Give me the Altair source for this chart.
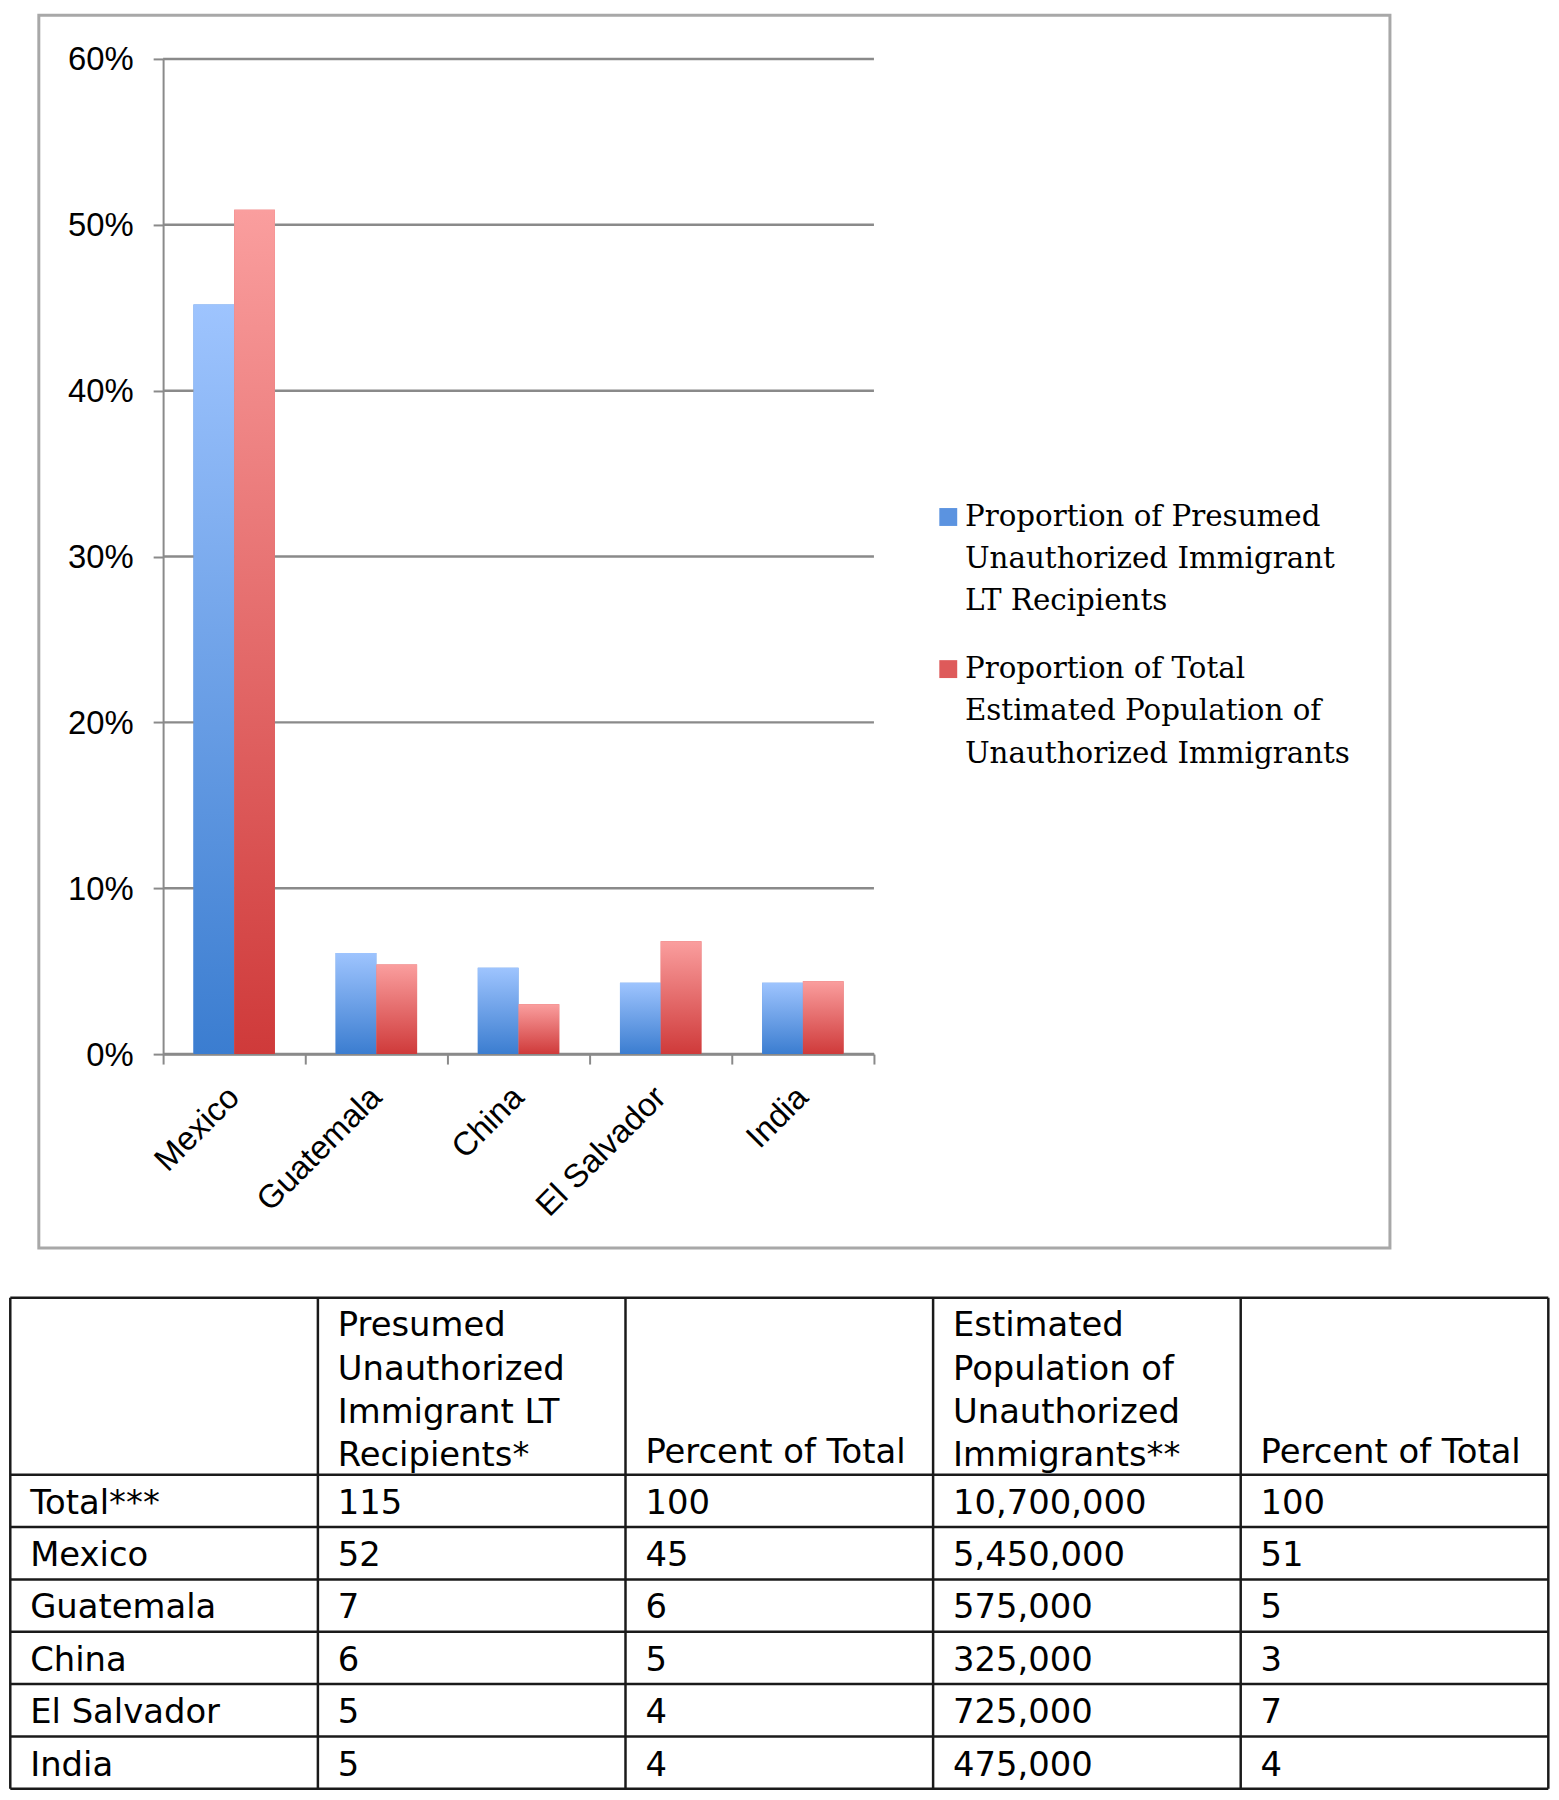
import altair as alt
import pandas as pd

# ---------------- data ----------------
countries = ["Mexico", "Guatemala", "China", "El Salvador", "India"]
series_names = [
    "Proportion of Presumed Unauthorized Immigrant LT Recipients",
    "Proportion of Total Estimated Population of Unauthorized Immigrants",
]
legend_lines = [
    ["Proportion of Presumed", "Unauthorized Immigrant", "LT Recipients"],
    ["Proportion of Total", "Estimated Population of", "Unauthorized Immigrants"],
]
lt_share = [45.2, 6.1, 5.2, 4.3, 4.3]      # % of presumed unauthorized LT recipients
pop_share = [50.9, 5.4, 3.0, 6.8, 4.4]     # % of estimated unauthorized population
y_ticks = [0, 10, 20, 30, 40, 50, 60]

table_header = [
    "",
    "Presumed\nUnauthorized\nImmigrant LT\nRecipients*",
    "Percent of Total",
    "Estimated\nPopulation of\nUnauthorized\nImmigrants**",
    "Percent of Total",
]
row_labels = ["Total***", "Mexico", "Guatemala", "China", "El Salvador", "India"]
lt_count = ["115", "52", "7", "6", "5", "5"]
lt_pct = ["100", "45", "6", "5", "4", "4"]
pop_est = ["10,700,000", "5,450,000", "575,000", "325,000", "725,000", "475,000"]
pop_pct = ["100", "51", "5", "3", "7", "4"]

# ---------------- layout constants ----------------
W, H = 1359, 1240          # framed chart panel
X0, X1 = 125, 840          # plot area inside the frame
Y0, Y1 = 1045, 44
GRAY = "#8a8a8a"

bars_df = pd.DataFrame({
    "country": countries * 2,
    "series": [series_names[0]] * len(countries) + [series_names[1]] * len(countries),
    "value": lt_share + pop_share,
})
grid_df = pd.DataFrame({"v": y_ticks})

n = len(countries)
band_scale = alt.Scale(domain=countries, range=[X0, X1], paddingInner=0.427, paddingOuter=0.2135)
y_scale = alt.Scale(domain=[0, 60], range=[Y0, Y1])
off = alt.XOffset("series:N", scale=alt.Scale(domain=series_names, paddingInner=0, paddingOuter=0))

y_axis = alt.Axis(orient="left", offset=-X0, values=y_ticks, labelExpr="datum.value + '%'",
                  grid=False, domain=True, domainColor=GRAY, domainWidth=2, ticks=True,
                  tickColor=GRAY, tickWidth=2, tickSize=10, labelPadding=20, labelOffset=1,
                  labelFont="Liberation Sans", labelFontSize=33, labelColor="black",
                  labelBaseline="middle", title=None)

grid = alt.Chart(grid_df).mark_rule(color=GRAY, strokeWidth=2.5).encode(
    x=alt.X(datum=0, type="quantitative", title=None,
            scale=alt.Scale(domain=[0, n], range=[X0, X1]),
            axis=alt.Axis(orient="bottom", offset=-(H - Y0), values=list(range(n + 1)),
                          labels=False, ticks=True, tickSize=10, tickColor=GRAY, tickWidth=2,
                          domain=True, domainColor=GRAY, domainWidth=2.5, grid=False, title=None)),
    x2=alt.X2(datum=n),
    y=alt.Y("v:Q", scale=y_scale, axis=y_axis, title=None),
)

label_expr = "datum.label == '%s' ? %s : %s" % (
    series_names[0], str(legend_lines[0]), str(legend_lines[1]))

base = alt.Chart(bars_df).mark_bar(strokeWidth=0).encode(
    x=alt.X("country:N", sort=countries, scale=band_scale, title=None,
            axis=alt.Axis(orient="bottom", offset=-(H - Y0), domain=False, ticks=False, tickSize=0,
                          labelAngle=-45, labelAlign="right", labelBaseline="middle",
                          labelPadding=38, labelFont="Liberation Sans", labelFontSize=33,
                          labelColor="black", grid=False, title=None)),
    xOffset=off,
    y=alt.Y("value:Q", scale=y_scale, title=None, axis=y_axis),
    color=alt.Color("series:N", scale=alt.Scale(domain=series_names, range=["#5b93e0", "#de5a5a"]),
                    legend=alt.Legend(title=None, orient="none", legendX=900, legendY=490,
                                      symbolType="square", symbolSize=324, symbolStrokeWidth=0,
                                      labelFont="DejaVu Serif", labelFontSize=29.5, labelColor="black",
                                      labelLimit=0, labelOffset=2, labelBaseline="middle",
                                      rowPadding=37, labelExpr=label_expr)),
)

grad_blue = alt.LinearGradient(gradient="linear", x1=0, x2=0, y1=0, y2=1, stops=[
    alt.GradientStop(color="#9ec4fe", offset=0), alt.GradientStop(color="#3b7dd0", offset=1)])
grad_red = alt.LinearGradient(gradient="linear", x1=0, x2=0, y1=0, y2=1, stops=[
    alt.GradientStop(color="#fa9e9e", offset=0), alt.GradientStop(color="#cf3a3a", offset=1)])


def overlay(name, grad):
    return alt.Chart(bars_df).transform_filter(alt.datum.series == name).mark_bar(
        fill=grad, strokeWidth=0).encode(
        x=alt.X("country:N", sort=countries, scale=band_scale, axis=None),
        xOffset=off,
        y=alt.Y("value:Q", scale=y_scale, axis=y_axis, title=None),
    )


chart = alt.layer(base, grid, overlay(series_names[0], grad_blue), overlay(series_names[1], grad_red)).resolve_scale(
    x="independent").resolve_axis(x="independent").properties(
    width=W, height=H, view=alt.ViewBackground(stroke="#a8a8a8", strokeWidth=3, fill="white"))

# ---------------- table ----------------
TW, TH = W, 494
TX0, TX1 = -28.7, 1518.3
HDR = 3.38
n_rows = len(row_labels)
total_units = HDR + n_rows
ncol = len(table_header)

tx = alt.Scale(domain=[0, ncol], range=[TX0, TX1])
ty = alt.Scale(domain=[0, total_units], range=[0, TH])

hline_df = pd.DataFrame({"y": [0] + [HDR + i for i in range(n_rows + 1)]})
vline_df = pd.DataFrame({"x": list(range(ncol + 1))})

hlines = alt.Chart(hline_df).mark_rule(color="#1a1a1a", strokeWidth=2.5).encode(
    x=alt.X(datum=0, type="quantitative", scale=tx, axis=None),
    x2=alt.X2(datum=ncol),
    y=alt.Y("y:Q", scale=ty, axis=None),
)
vlines = alt.Chart(vline_df).mark_rule(color="#1a1a1a", strokeWidth=2.5).encode(
    x=alt.X("x:Q", scale=tx, axis=None),
    y=alt.Y(datum=0, type="quantitative", scale=ty, axis=None),
    y2=alt.Y2(datum=total_units),
)

cells = []
cols = [row_labels, lt_count, lt_pct, pop_est, pop_pct]
for r in range(n_rows):
    for c in range(ncol):
        cells.append({"c": c, "y": HDR + r + 0.5, "t": cols[c][r]})
cells_df = pd.DataFrame(cells)

multi = [(c, t) for c, t in enumerate(table_header) if "\n" in t]
single = [(c, t) for c, t in enumerate(table_header) if t and "\n" not in t]
head_multi_df = pd.DataFrame({"c": [c for c, _ in multi], "y": [0] * len(multi), "t": [t for _, t in multi]})
head_single_df = pd.DataFrame({"c": [c for c, _ in single], "y": [HDR] * len(single), "t": [t for _, t in single]})

FS = 34
cell_text = alt.Chart(cells_df).mark_text(
    align="left", baseline="middle", dx=20, dy=3, font="DejaVu Sans", fontSize=FS, color="black").encode(
    x=alt.X("c:Q", scale=tx, axis=None),
    y=alt.Y("y:Q", scale=ty, axis=None),
    text="t:N",
)
head_multi = alt.Chart(head_multi_df).mark_text(
    align="left", baseline="top", dx=20, dy=12, lineBreak="\n", lineHeight=43.4,
    font="DejaVu Sans", fontSize=FS, color="black").encode(
    x=alt.X("c:Q", scale=tx, axis=None),
    y=alt.Y("y:Q", scale=ty, axis=None),
    text="t:N",
)
head_single = alt.Chart(head_single_df).mark_text(
    align="left", baseline="alphabetic", dx=20, dy=-12,
    font="DejaVu Sans", fontSize=FS, color="black").encode(
    x=alt.X("c:Q", scale=tx, axis=None),
    y=alt.Y("y:Q", scale=ty, axis=None),
    text="t:N",
)

table = alt.layer(hlines, vlines, cell_text, head_multi, head_single).properties(
    width=TW, height=TH, view=alt.ViewBackground(stroke="transparent"))

final = alt.vconcat(chart, table, spacing=50, bounds="flush").properties(
    padding=0, background="white"
).configure(style={"guide-label": {"lineHeight": 42.5}})

final.save("out.html", embed_options={"renderer": "svg", "actions": False})
